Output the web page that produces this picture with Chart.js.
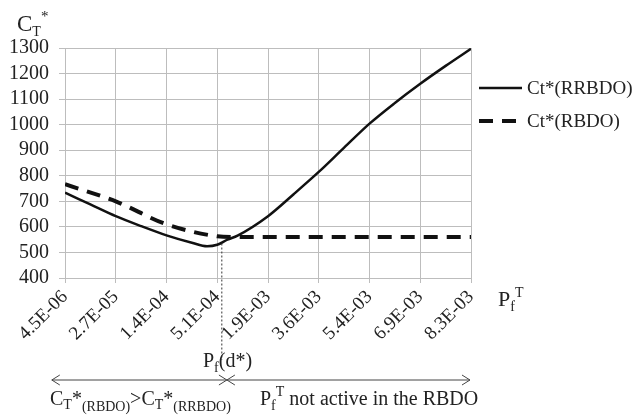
<!DOCTYPE html>
<html>
<head>
<meta charset="utf-8">
<script src="https://cdn.jsdelivr.net/npm/chart.js@4"></script>
<style>
  html, body { margin: 0; padding: 0; background: #fff; }
  #wrap { position: relative; width: 640px; height: 417px; }
</style>
</head>
<body>
<div id="wrap"><canvas id="chart" width="640" height="417"></canvas></div>
<script>
// target failure probability categories (x axis)
const categories = ['4.5E-06', '2.7E-05', '1.4E-04', '5.1E-04', '1.9E-03', '3.6E-03', '5.4E-03', '6.9E-03', '8.3E-03'];

// Ct*(RRBDO), positions in category units
const rrbdoPos = [0, 0.5, 1, 1.5, 2, 2.5, 2.8, 3, 3.2, 3.4, 4, 4.5, 5, 5.5, 6, 6.5, 7, 7.5, 8];
const rrbdoCost = [734, 688, 642, 603, 567, 538, 524, 530, 550, 566, 642, 727, 815, 910, 1004, 1085, 1160, 1230, 1297];

// Ct*(RBDO)
const rbdoPos = [0, 1, 2, 3, 3.3, 4, 5, 6, 7, 8];
const rbdoCost = [767, 700, 610, 563, 560, 560, 560, 560, 560, 560];

const yTicks = [400, 500, 600, 700, 800, 900, 1000, 1100, 1200, 1300];

const seriesNames = ['Ct*(RRBDO)', 'Ct*(RBDO)'];

const FONT = '"Liberation Serif", "Times New Roman", serif';
const INK = '#222';
const GRID = '#bdbdbd';

const toPoints = (xs, ys) => xs.map((x, i) => ({ x, y: ys[i] }));

// draws a run of text pieces with sub/superscripts, returns end x
function richText(ctx, parts, x, y) {
  parts.forEach(p => {
    ctx.font = `${p.size || 20}px ${FONT}`;
    ctx.fillText(p.t, x, y + (p.dy || 0));
    x += ctx.measureText(p.t).width;
  });
  return x;
}

function line(ctx, x1, y1, x2, y2) {
  ctx.beginPath();
  ctx.moveTo(x1, y1);
  ctx.lineTo(x2, y2);
  ctx.stroke();
}

const annotations = {
  id: 'annotations',
  afterDraw(chart) {
    const { ctx, scales: { x, y }, chartArea } = chart;
    ctx.save();
    ctx.fillStyle = INK;
    ctx.textBaseline = 'alphabetic';
    ctx.textAlign = 'left';

    // axis titles
    richText(ctx, [{ t: 'C', size: 23 }, { t: 'T', size: 14, dy: 5 }, { t: '*', size: 15, dy: -10 }], 17, 31);
    richText(ctx, [{ t: 'P', size: 22 }, { t: 'f', size: 14, dy: 5 }, { t: 'T', size: 14, dy: -9 }], 498, 306);

    // legend
    const ds = chart.data.datasets;
    ds.forEach((d, i) => {
      const ly = 88 + i * 33;
      ctx.strokeStyle = d.borderColor;
      ctx.lineWidth = d.borderWidth;
      ctx.setLineDash(d.borderDash || []);
      line(ctx, 479, ly, 522, ly);
      ctx.setLineDash([]);
      ctx.font = `19px ${FONT}`;
      ctx.textBaseline = 'middle';
      ctx.fillText(d.label, 527, ly + 1);
    });
    ctx.textBaseline = 'alphabetic';

    // dotted line at Pf(d*)
    const xd = x.getPixelForValue(3.09);
    ctx.strokeStyle = '#333';
    ctx.lineWidth = 1;
    ctx.setLineDash([2, 2]);
    line(ctx, xd, y.getPixelForValue(535), xd, chartArea.bottom + 82);
    ctx.setLineDash([]);

    richText(ctx, [{ t: 'P' }, { t: 'f', size: 14, dy: 5 }, { t: '(d*)' }], 203, 367);

    // range arrows
    const ay = 380;
    const xa = x.getPixelForValue(-0.26);
    const xc = x.getPixelForValue(3.19);
    const xb = x.getPixelForValue(7.98);
    ctx.strokeStyle = '#444';
    ctx.lineWidth = 1;
    line(ctx, xa, ay, xb, ay);
    [[xa, 1], [xc, -1], [xc, 1], [xb, -1]].forEach(([px, dir]) => {
      line(ctx, px + dir * 8, ay - 5, px, ay);
      line(ctx, px, ay, px + dir * 8, ay + 5);
    });

    richText(ctx, [
      { t: 'C' }, { t: 'T', size: 14, dy: 4 }, { t: '*' }, { t: '(RBDO)', size: 14, dy: 6 },
      { t: '>' },
      { t: 'C' }, { t: 'T', size: 14, dy: 4 }, { t: '*' }, { t: '(RRBDO)', size: 14, dy: 6 }
    ], 50, 405);
    richText(ctx, [
      { t: 'P' }, { t: 'f', size: 14, dy: 5 }, { t: 'T', size: 14, dy: -9 }, { t: ' not active in the RBDO' }
    ], 260, 405);

    ctx.restore();
  }
};

new Chart(document.getElementById('chart'), {
  type: 'line',
  data: {
    datasets: [
      {
        label: seriesNames[0],
        data: toPoints(rrbdoPos, rrbdoCost),
        borderColor: '#111',
        borderWidth: 2.5,
        pointRadius: 0,
        cubicInterpolationMode: 'monotone',
        fill: false
      },
      {
        label: seriesNames[1],
        data: toPoints(rbdoPos, rbdoCost),
        borderColor: '#111',
        borderWidth: 4,
        borderDash: [14, 9],
        pointRadius: 0,
        cubicInterpolationMode: 'monotone',
        fill: false
      }
    ]
  },
  options: {
    responsive: false,
    animation: false,
    layout: { padding: { left: 0, right: 169, top: 48, bottom: 0 } },
    plugins: {
      legend: { display: false },
      tooltip: { enabled: false }
    },
    scales: {
      x: {
        type: 'linear',
        min: 0,
        max: categories.length - 1,
        afterFit: s => { s.height = 139; },
        afterBuildTicks: s => { s.ticks = categories.map((_, i) => ({ value: i })); },
        grid: { color: GRID, tickLength: 5 },
        border: { color: GRID },
        ticks: {
          autoSkip: false,
          minRotation: 45,
          maxRotation: 45,
          padding: 3,
          color: INK,
          font: { family: FONT, size: 19 },
          callback: v => categories[v]
        }
      },
      y: {
        min: yTicks[0],
        max: yTicks[yTicks.length - 1],
        afterFit: s => { s.width = 65; },
        afterBuildTicks: s => { s.ticks = yTicks.map(v => ({ value: v })); },
        grid: { color: GRID, tickLength: 6 },
        border: { color: GRID },
        ticks: {
          autoSkip: false,
          padding: 10,
          color: INK,
          font: { family: FONT, size: 20 },
          callback: v => String(v)
        }
      }
    }
  },
  plugins: [annotations]
});
</script>
</body>
</html>
